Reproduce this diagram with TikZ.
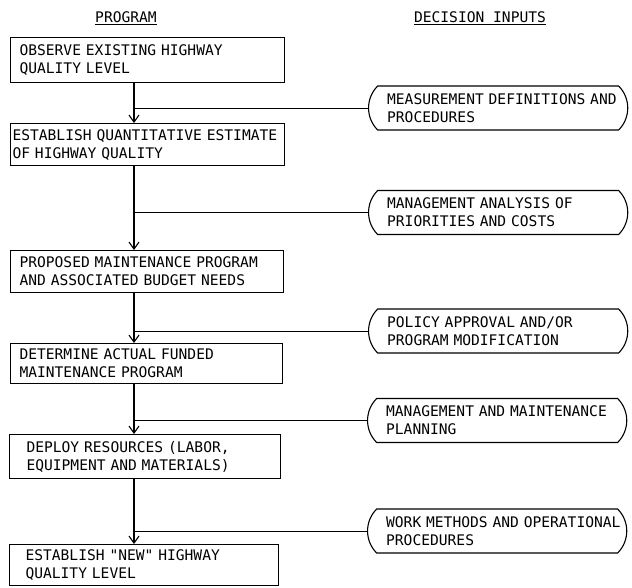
\documentclass[tikz,border=0pt]{standalone}
\usepackage{fontspec}
\usetikzlibrary{shapes.misc, arrows.meta}
\newfontfamily\typewriter{DejaVu Sans Mono}

\begin{document}
\begin{tikzpicture}[x=1pt, y=-1pt, >={Straight Barb[length=7pt, width=10pt]}, line width=1.1pt]
    \tikzset{progbox/.style={draw, rectangle, anchor=north west, align=left, inner xsep=9pt, inner ysep=0pt,
                             font=\typewriter\fontsize{14.6}{18}\selectfont}}
    \tikzset{inputbox/.style={draw, rounded rectangle, rounded rectangle arc length=90, anchor=west,
                              text width=250pt, align=left, inner xsep=1pt, inner ysep=0pt, minimum height=44pt,
                              execute at begin node={\leftskip=14pt},
                              font=\typewriter\fontsize{14.6}{18}\selectfont}}
    \tikzset{heading/.style={font=\typewriter\fontsize{14.6}{18}\selectfont}}
    \useasboundingbox (0,0) rectangle (632,587);
    \node[heading] (prog) at (126,18) {\underline{PROGRAM}};
    \node[heading] (dec) at (480,18) {\underline{DECISION INPUTS}};
    % program column
    \node[progbox, text width=256pt, minimum height=45pt] (b1) at (10,37) {OBSERVE EXISTING HIGHWAY\\QUALITY LEVEL};
    \node[progbox, inner xsep=2pt, text width=270pt, minimum height=42pt] (b2) at (10,123) {ESTABLISH QUANTITATIVE ESTIMATE\\OF HIGHWAY QUALITY};
    \node[progbox, text width=255pt, minimum height=42pt] (b3) at (10,250) {PROPOSED MAINTENANCE PROGRAM\\AND ASSOCIATED BUDGET NEEDS};
    \node[progbox, text width=254pt, minimum height=40pt] (b4) at (10,343) {DETERMINE ACTUAL FUNDED\\MAINTENANCE PROGRAM};
    \node[progbox, inner xsep=17pt, text width=237pt, minimum height=44pt] (b5) at (9,434) {DEPLOY RESOURCES (LABOR,\\EQUIPMENT AND MATERIALS)};
    \node[progbox, inner xsep=16pt, text width=237pt, minimum height=41pt] (b6) at (9,544) {ESTABLISH "NEW" HIGHWAY\\QUALITY LEVEL};
    % decision inputs
    \node[inputbox] (r1) at (368,108) {MEASUREMENT DEFINITIONS AND\\PROCEDURES};
    \node[inputbox] (r2) at (368,212.5) {MANAGEMENT ANALYSIS OF\\PRIORITIES AND COSTS};
    \node[inputbox] (r3) at (368,331) {POLICY APPROVAL AND/OR\\PROGRAM MODIFICATION};
    \node[inputbox] (r4) at (367,420.5) {MANAGEMENT AND MAINTENANCE\\PLANNING};
    \node[inputbox] (r5) at (367,531) {WORK METHODS AND OPERATIONAL\\PROCEDURES};
    \coordinate (spine) at (134,0);
    \foreach \a/\b in {b1/b2, b2/b3, b3/b4, b4/b5, b5/b6} {
        \draw[->] (\a.south -| spine) -- (\b.north -| spine);
    }
    \foreach \r in {r1, r2, r3, r4, r5} {
        \draw[line width=0.9pt] (\r.west) -- (\r.west -| spine);
    }
\end{tikzpicture}
\end{document}
